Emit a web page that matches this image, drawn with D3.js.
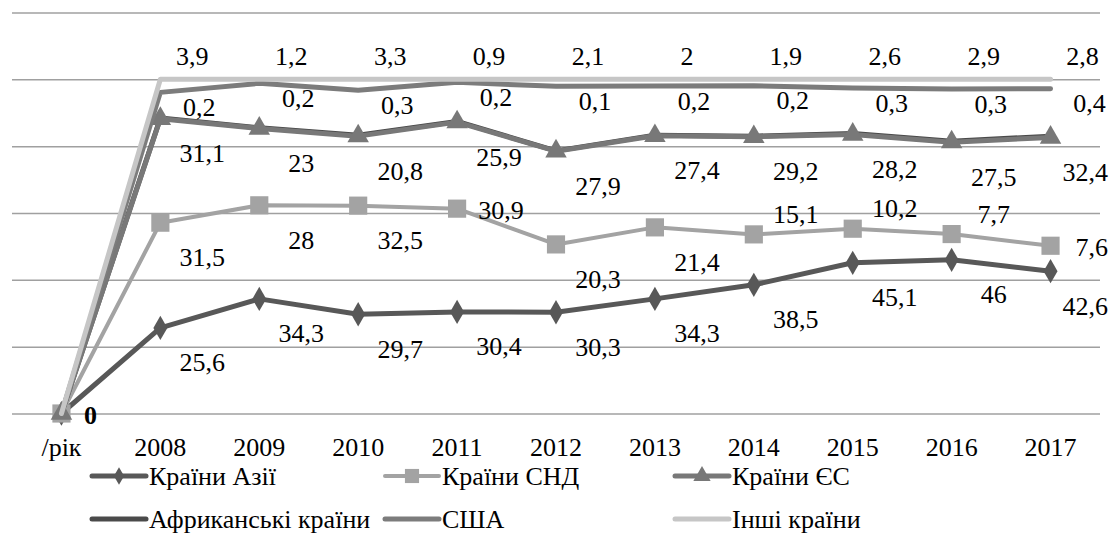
<!DOCTYPE html>
<html>
<head>
<meta charset="utf-8">
<script src="https://cdn.jsdelivr.net/npm/d3@7"></script>
<style>
  body { margin: 0; background: #fff; }
  svg { display: block; }
</style>
</head>
<body>
<div id="chart"></div>
<script>
// categories and values (shares, %)
var years  = ["/рік", "2008", "2009", "2010", "2011", "2012", "2013", "2014", "2015", "2016", "2017"];
var asia   = [0, 25.6, 34.3, 29.7, 30.4, 30.3, 34.3, 38.5, 45.1, 46, 42.6];
var cis    = [0, 31.5, 28, 32.5, 30.9, 20.3, 21.4, 15.1, 10.2, 7.7, 7.6];
var eu     = [0, 31.1, 23, 20.8, 25.9, 27.9, 27.4, 29.2, 28.2, 27.5, 32.4];
var africa = [0, 0.2, 0.2, 0.3, 0.2, 0.1, 0.2, 0.2, 0.3, 0.3, 0.4];
var usa    = [0, 7.7, 13.3, 13.4, 11.7, 19.3, 14.7, 15.1, 13.6, 15.6, 14.2];
var other  = [0, 3.9, 1.2, 3.3, 0.9, 2.1, 2, 1.9, 2.6, 2.9, 2.8];
var yTicks = [0, 20, 40, 60, 80, 100, 120];

// where the CIS labels sit (below / above / right of the point)
var cisSide = ["r", "b", "b", "b", "r", "b", "b", "a", "a", "a", "r"];

var FONT = "'Liberation Serif', 'Times New Roman', serif";
var FS = 26;
var width = 1112, height = 537;
var svg = d3.select("#chart").append("svg")
    .attr("width", width)
    .attr("height", height)
    .attr("font-family", FONT)
    .attr("font-size", FS);

var x = d3.scaleBand().domain(years).range([12, 1100]).padding(0);
var cx = function(d) { return x(d) + x.bandwidth() / 2; };
var y = d3.scaleLinear().domain([0, 120]).range([413.5, 12.5]);

// series setup (legend order)
var series = [
  {key: "asia",   name: "Країни Азії",        values: asia,   color: "#585858", w: 5, marker: "diamond",  side: "b"},
  {key: "cis",    name: "Країни СНД",         values: cis,    color: "#a3a3a3", w: 4, marker: "square",   side: cisSide},
  {key: "eu",     name: "Країни ЄС",          values: eu,     color: "#787878", w: 5, marker: "triangle", side: "b"},
  {key: "africa", name: "Африканські країни", values: africa, color: "#4a4a4a", w: 5, marker: null,       side: "n"},
  {key: "usa",    name: "США",                values: usa,    color: "#7c7c7c", w: 5, marker: null,       side: null},
  {key: "other",  name: "Інші країни",        values: other,  color: "#c6c6c6", w: 5, marker: null,       side: "t"}
];

var table = years.map(function(yr, i) {
  var row = {year: yr};
  series.forEach(function(s) { row[s.key] = s.values[i]; });
  return row;
});

var stacked = d3.stack().keys(series.map(function(s) { return s.key; }))(table);

function serif(sel) {
  return sel.attr("font-family", FONT).attr("font-size", FS).attr("fill", "#000");
}

// gridlines
svg.append("g")
    .attr("transform", "translate(12,0)")
    .call(d3.axisLeft(y).tickValues(yTicks).tickSize(-1088).tickFormat(""))
    .call(function(g) { g.select(".domain").remove(); })
    .selectAll("line")
    .attr("stroke", "#a0a0a0")
    .attr("stroke-width", 1.5);

// x labels
var xAxis = svg.append("g")
    .attr("transform", "translate(0," + y(0) + ")")
    .call(d3.axisBottom(x).tickSize(0).tickPadding(0));
xAxis.select(".domain").remove();
xAxis.attr("font-family", FONT).attr("font-size", FS);
xAxis.selectAll("text")
    .attr("y", 34)
    .attr("dy", 0)
    .attr("dominant-baseline", "central")
    .call(serif);

var symbols = {
  diamond:  d3.symbol().type(d3.symbolDiamond).size(170),
  square:   d3.symbol().type(d3.symbolSquare).size(330),
  triangle: d3.symbol().type(d3.symbolTriangle).size(200)
};
var legendSymbols = {
  diamond:  d3.symbol().type(d3.symbolDiamond).size(90),
  square:   d3.symbol().type(d3.symbolSquare).size(200),
  triangle: d3.symbol().type(d3.symbolTriangle).size(130)
};

var line = d3.line()
    .x(function(d) { return cx(d.data.year); })
    .y(function(d) { return y(d[1]); });

// lines and markers; the thin Africa band is laid under the EU line
var drawOrder = ["asia", "cis", "africa", "eu", "usa", "other"];
drawOrder.forEach(function(key) {
  var si = series.findIndex(function(s) { return s.key === key; });
  var s = series[si], layer = stacked[si];
  svg.append("path")
      .datum(layer)
      .attr("fill", "none")
      .attr("stroke", s.color)
      .attr("stroke-width", s.w)
      .attr("stroke-linejoin", "round")
      .attr("stroke-linecap", "round")
      .attr("d", line);

  if (s.marker) {
    svg.append("g").selectAll("path")
        .data(layer)
        .enter().append("path")
        .attr("d", symbols[s.marker])
        .attr("transform", function(d) { return "translate(" + cx(d.data.year) + "," + y(d[1]) + ")"; })
        .attr("fill", s.color);
  }
});

// data labels
function fmt(v) { return String(v).replace(".", ","); }
function offset(side) {
  if (side === "b") return [42, 35];
  if (side === "a") return [42, -20];
  if (side === "r") return [44, 2];
  if (side === "n") return [39, 15];
  if (side === "t") return [32, -23];
  return [40, 30];
}

var labels = svg.append("g");
stacked.forEach(function(layer, si) {
  var s = series[si];
  if (!s.side) return;
  labels.append("g").selectAll("text")
      .data(layer.filter(function(d, i) { return i > 0; }))
      .enter().append("text")
      .call(serif)
      .attr("x", function(d) {
        var i = years.indexOf(d.data.year);
        var side = Array.isArray(s.side) ? s.side[i] : s.side;
        return cx(d.data.year) + offset(side)[0];
      })
      .attr("y", function(d) {
        var i = years.indexOf(d.data.year);
        var side = Array.isArray(s.side) ? s.side[i] : s.side;
        // Africa labels hang just under the next (USA) line
        var base = side === "n" ? stacked[si + 1][i][1] : d[1];
        return y(base) + offset(side)[1];
      })
      .attr("text-anchor", "middle")
      .attr("dominant-baseline", "central")
      .text(function(d) { return fmt(s.values[years.indexOf(d.data.year)]); })
      .each(function() {
        // keep labels inside the right edge
        var w = this.getComputedTextLength();
        var lx = +this.getAttribute("x");
        if (lx + w / 2 > width - 4) this.setAttribute("x", width - 4 - w / 2);
      });
});

// zero label of the first category
labels.append("text")
    .call(serif)
    .attr("x", cx(years[0]) + 29)
    .attr("y", y(0) + 2)
    .attr("text-anchor", "middle")
    .attr("dominant-baseline", "central")
    .attr("font-weight", "bold")
    .text(fmt(asia[0]));

// legend
var legendCols = [92, 385, 675];
var legendRows = [476, 519];
var legend = svg.append("g");
series.forEach(function(s, i) {
  var lx = legendCols[i % 3];
  var ly = legendRows[Math.floor(i / 3)];
  var g = legend.append("g").attr("transform", "translate(" + lx + "," + ly + ")");
  g.append("line")
      .attr("x1", 0).attr("x2", 54)
      .attr("stroke", s.color)
      .attr("stroke-width", s.w)
      .attr("stroke-linecap", "round");
  if (s.marker) {
    g.append("path")
        .attr("d", legendSymbols[s.marker])
        .attr("transform", "translate(27,0)")
        .attr("fill", s.color);
  }
  g.append("text")
      .call(serif)
      .attr("x", 57)
      .attr("dominant-baseline", "central")
      .text(s.name);
});
</script>
</body>
</html>
